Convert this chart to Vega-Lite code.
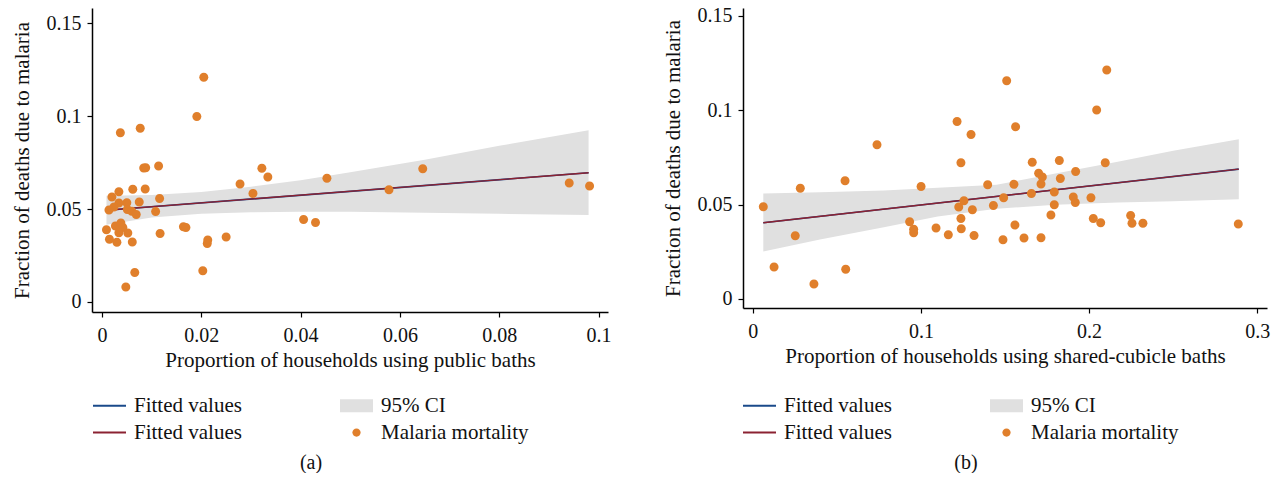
{
  "$schema": "https://vega.github.io/schema/vega-lite/v6.json",
  "background": "white",
  "padding": {"left": 11, "top": 5, "right": 5, "bottom": 0},
  "autosize": {"type": "pad"},
  "bounds": "flush",
  "spacing": 135,
  "config": {
    "view": {"stroke": null},
    "font": "Liberation Serif",
    "axis": {"grid": false, "domainColor": "#000", "domainWidth": 1.5, "tickColor": "#000", "tickWidth": 1.2, "tickSize": 5, "labelFont": "Liberation Serif", "labelFontSize": 20, "labelColor": "#111", "titleFont": "Liberation Serif", "titleFontSize": 21, "titleFontWeight": "normal", "titleColor": "#111", "labelFlush": false, "labelOverlap": false},
    "axisY": {"titlePadding": 14, "labelPadding": 6},
    "axisX": {"titlePadding": 4, "labelPadding": 8},
    "title": {"font": "Liberation Serif", "fontSize": 20, "fontWeight": "normal", "color": "#111", "orient": "bottom", "anchor": "middle", "frame": "bounds", "offset": 10}
  },
  "datasets": {
    "pubPts": [
      {"x":0.0205,"y":0.1208,"s":"mort"},{"x":0.0191,"y":0.0998,"s":"mort"},{"x":0.0037,"y":0.0910,"s":"mort"},{"x":0.0077,"y":0.0935,"s":"mort"},{"x":0.0084,"y":0.0720,"s":"mort"},{"x":0.0088,"y":0.0722,"s":"mort"},{"x":0.0114,"y":0.0731,"s":"mort"},{"x":0.0322,"y":0.0719,"s":"mort"},{"x":0.0334,"y":0.0672,"s":"mort"},{"x":0.0453,"y":0.0665,"s":"mort"},{"x":0.0278,"y":0.0634,"s":"mort"},{"x":0.0304,"y":0.0584,"s":"mort"},{"x":0.0020,"y":0.0565,"s":"mort"},{"x":0.0034,"y":0.0593,"s":"mort"},{"x":0.0062,"y":0.0606,"s":"mort"},{"x":0.0087,"y":0.0608,"s":"mort"},{"x":0.0116,"y":0.0556,"s":"mort"},{"x":0.0075,"y":0.0538,"s":"mort"},{"x":0.0050,"y":0.0534,"s":"mort"},{"x":0.0034,"y":0.0532,"s":"mort"},{"x":0.0024,"y":0.0511,"s":"mort"},{"x":0.0014,"y":0.0495,"s":"mort"},{"x":0.0051,"y":0.0498,"s":"mort"},{"x":0.0060,"y":0.0488,"s":"mort"},{"x":0.0069,"y":0.0471,"s":"mort"},{"x":0.0108,"y":0.0486,"s":"mort"},{"x":0.0009,"y":0.0389,"s":"mort"},{"x":0.0027,"y":0.0409,"s":"mort"},{"x":0.0038,"y":0.0425,"s":"mort"},{"x":0.0042,"y":0.0401,"s":"mort"},{"x":0.0034,"y":0.0373,"s":"mort"},{"x":0.0052,"y":0.0371,"s":"mort"},{"x":0.0015,"y":0.0337,"s":"mort"},{"x":0.0030,"y":0.0321,"s":"mort"},{"x":0.0061,"y":0.0323,"s":"mort"},{"x":0.0117,"y":0.0369,"s":"mort"},{"x":0.0164,"y":0.0405,"s":"mort"},{"x":0.0169,"y":0.0400,"s":"mort"},{"x":0.0213,"y":0.0333,"s":"mort"},{"x":0.0212,"y":0.0314,"s":"mort"},{"x":0.0250,"y":0.0349,"s":"mort"},{"x":0.0406,"y":0.0443,"s":"mort"},{"x":0.0430,"y":0.0427,"s":"mort"},{"x":0.0203,"y":0.0168,"s":"mort"},{"x":0.0066,"y":0.0158,"s":"mort"},{"x":0.0048,"y":0.0081,"s":"mort"},{"x":0.0578,"y":0.0604,"s":"mort"},{"x":0.0646,"y":0.0717,"s":"mort"},{"x":0.0941,"y":0.0640,"s":"mort"},{"x":0.0982,"y":0.0624,"s":"mort"}
    ],
    "pubFit": [{"x":0.0009,"y":0.0493},{"x":0.098,"y":0.0695}],
    "pubCI": [
      {"x":0.0009,"lo":0.0416,"hi":0.0572},{"x":0.01,"lo":0.0455,"hi":0.0575},{"x":0.02,"lo":0.0474,"hi":0.0592},{"x":0.03,"lo":0.0482,"hi":0.0620},{"x":0.04,"lo":0.0485,"hi":0.0655},{"x":0.05,"lo":0.0485,"hi":0.0698},{"x":0.065,"lo":0.0480,"hi":0.0765},{"x":0.08,"lo":0.0474,"hi":0.0840},{"x":0.098,"lo":0.0468,"hi":0.0923}
    ],
    "shPts": [
      {"x":0.0063,"y":0.0489,"s":"mort"},{"x":0.0127,"y":0.0169,"s":"mort"},{"x":0.0253,"y":0.0335,"s":"mort"},{"x":0.0283,"y":0.0587,"s":"mort"},{"x":0.0364,"y":0.0080,"s":"mort"},{"x":0.0549,"y":0.0626,"s":"mort"},{"x":0.0553,"y":0.0158,"s":"mort"},{"x":0.0739,"y":0.0817,"s":"mort"},{"x":0.0933,"y":0.0410,"s":"mort"},{"x":0.0957,"y":0.0369,"s":"mort"},{"x":0.0957,"y":0.0351,"s":"mort"},{"x":0.1001,"y":0.0596,"s":"mort"},{"x":0.1090,"y":0.0376,"s":"mort"},{"x":0.1163,"y":0.0340,"s":"mort"},{"x":0.1215,"y":0.0940,"s":"mort"},{"x":0.1225,"y":0.0488,"s":"mort"},{"x":0.1238,"y":0.0722,"s":"mort"},{"x":0.1238,"y":0.0427,"s":"mort"},{"x":0.1240,"y":0.0372,"s":"mort"},{"x":0.1256,"y":0.0521,"s":"mort"},{"x":0.1298,"y":0.0872,"s":"mort"},{"x":0.1306,"y":0.0473,"s":"mort"},{"x":0.1316,"y":0.0337,"s":"mort"},{"x":0.1397,"y":0.0606,"s":"mort"},{"x":0.1431,"y":0.0496,"s":"mort"},{"x":0.1488,"y":0.0314,"s":"mort"},{"x":0.1492,"y":0.0536,"s":"mort"},{"x":0.1510,"y":0.1156,"s":"mort"},{"x":0.1553,"y":0.0608,"s":"mort"},{"x":0.1563,"y":0.0913,"s":"mort"},{"x":0.1559,"y":0.0392,"s":"mort"},{"x":0.1613,"y":0.0323,"s":"mort"},{"x":0.1657,"y":0.0559,"s":"mort"},{"x":0.1662,"y":0.0725,"s":"mort"},{"x":0.1700,"y":0.0667,"s":"mort"},{"x":0.1722,"y":0.0647,"s":"mort"},{"x":0.1714,"y":0.0610,"s":"mort"},{"x":0.1714,"y":0.0324,"s":"mort"},{"x":0.1773,"y":0.0445,"s":"mort"},{"x":0.1793,"y":0.0567,"s":"mort"},{"x":0.1793,"y":0.0500,"s":"mort"},{"x":0.1823,"y":0.0734,"s":"mort"},{"x":0.1829,"y":0.0638,"s":"mort"},{"x":0.1906,"y":0.0541,"s":"mort"},{"x":0.1920,"y":0.0676,"s":"mort"},{"x":0.1918,"y":0.0511,"s":"mort"},{"x":0.2011,"y":0.0536,"s":"mort"},{"x":0.2025,"y":0.0426,"s":"mort"},{"x":0.2045,"y":0.1002,"s":"mort"},{"x":0.2069,"y":0.0404,"s":"mort"},{"x":0.2096,"y":0.0722,"s":"mort"},{"x":0.2105,"y":0.1213,"s":"mort"},{"x":0.2247,"y":0.0443,"s":"mort"},{"x":0.2255,"y":0.0401,"s":"mort"},{"x":0.2320,"y":0.0401,"s":"mort"},{"x":0.2887,"y":0.0397,"s":"mort"}
    ],
    "shFit": [{"x":0.0063,"y":0.0404},{"x":0.289,"y":0.0688}],
    "shCI": [
      {"x":0.0063,"lo":0.0252,"hi":0.0559},{"x":0.04,"lo":0.0315,"hi":0.0565},{"x":0.078,"lo":0.0380,"hi":0.0575},{"x":0.11,"lo":0.0437,"hi":0.0590},{"x":0.145,"lo":0.0478,"hi":0.0605},{"x":0.18,"lo":0.0500,"hi":0.0665},{"x":0.217,"lo":0.0511,"hi":0.0727},{"x":0.25,"lo":0.0518,"hi":0.0785},{"x":0.289,"lo":0.0528,"hi":0.0847}
    ]
  },
  "hconcat": [
    {
      "width": 516,
      "height": 304,
      "title": {"text": "(a)"},
      "encoding": {
        "x": {"field": "x", "type": "quantitative", "title": "Proportion of households using public baths", "scale": {"domain": [-0.002014, 0.10191], "nice": false, "zero": false}, "axis": {"values": [0, 0.02, 0.04, 0.06, 0.08, 0.1], "format": "~g"}},
        "y": {"field": "y", "type": "quantitative", "title": "Fraction of deaths due to malaria", "scale": {"domain": [-0.00538, 0.1581], "nice": false, "zero": false}, "axis": {"values": [0, 0.05, 0.1, 0.15], "format": "~g"}}
      },
      "layer": [
        {"data": {"name": "pubCI"}, "mark": {"type": "area", "color": "#E0E0E0"},
         "encoding": {"y": {"field": "lo", "type": "quantitative", "title": "Fraction of deaths due to malaria", "scale": {"domain": [-0.00538, 0.1581], "nice": false, "zero": false}, "axis": {"values": [0, 0.05, 0.1, 0.15], "format": "~g"}}, "y2": {"field": "hi"}}},
        {"data": {"name": "pubFit"}, "mark": {"type": "line", "color": "#1A4A8A", "strokeWidth": 1.6}},
        {"data": {"name": "pubFit"}, "mark": {"type": "line", "color": "#8B2232", "strokeWidth": 1.4}},
        {"data": {"name": "pubPts"}, "mark": {"type": "point", "filled": true, "opacity": 1, "size": 1296},
         "encoding": {
           "color": {"field": "s", "type": "nominal", "scale": {"domain": ["fit1", "fit2", "ci", "mort"], "range": ["#1A4A8A", "#8B2232", "#E0E0E0", "#E07F2B"]},
             "legend": {"title": null, "orient": "none", "legendX": 1, "legendY": 381, "columns": 2, "columnPadding": 98, "rowPadding": 0, "symbolSize": 1089, "symbolStrokeWidth": 0, "labelFont": "Liberation Serif", "labelFontSize": 21, "labelColor": "#111", "labelOffset": 8, "labelExpr": "datum.value == 'ci' ? '95% CI' : datum.value == 'mort' ? 'Malaria mortality' : 'Fitted values'"}},
           "shape": {"field": "s", "type": "nominal", "scale": {"domain": ["fit1", "fit2", "ci", "mort"], "range": ["M-1,-0.06H1V0.06H-1Z", "M-1,-0.06H1V0.06H-1Z", "M-1,-0.4H1V0.4H-1Z", "M0.25,0A0.25,0.25,0,1,1,-0.25,0A0.25,0.25,0,1,1,0.25,0Z"]},
             "legend": {"title": null, "orient": "none", "legendX": 1, "legendY": 381, "columns": 2, "columnPadding": 98, "rowPadding": 0, "symbolSize": 1089, "symbolStrokeWidth": 0, "labelFont": "Liberation Serif", "labelFontSize": 21, "labelColor": "#111", "labelOffset": 8, "labelExpr": "datum.value == 'ci' ? '95% CI' : datum.value == 'mort' ? 'Malaria mortality' : 'Fitted values'"}}
         }}
      ]
    },
    {
      "width": 524,
      "height": 300,
      "title": {"text": "(b)"},
      "encoding": {
        "x": {"field": "x", "type": "quantitative", "title": "Proportion of households using shared-cubicle baths", "scale": {"domain": [-0.00577, 0.30577], "nice": false, "zero": false}, "axis": {"values": [0, 0.1, 0.2, 0.3], "format": "~g"}},
        "y": {"field": "y", "type": "quantitative", "title": "Fraction of deaths due to malaria", "scale": {"domain": [-0.00477, 0.1542], "nice": false, "zero": false}, "axis": {"values": [0, 0.05, 0.1, 0.15], "format": "~g"}}
      },
      "layer": [
        {"data": {"name": "shCI"}, "mark": {"type": "area", "color": "#E0E0E0"},
         "encoding": {"y": {"field": "lo", "type": "quantitative", "title": "Fraction of deaths due to malaria", "scale": {"domain": [-0.00477, 0.1542], "nice": false, "zero": false}, "axis": {"values": [0, 0.05, 0.1, 0.15], "format": "~g"}}, "y2": {"field": "hi"}}},
        {"data": {"name": "shFit"}, "mark": {"type": "line", "color": "#1A4A8A", "strokeWidth": 1.6}},
        {"data": {"name": "shFit"}, "mark": {"type": "line", "color": "#8B2232", "strokeWidth": 1.4}},
        {"data": {"name": "shPts"}, "mark": {"type": "point", "filled": true, "opacity": 1, "size": 1296},
         "encoding": {
           "color": {"field": "s", "type": "nominal", "scale": {"domain": ["fit1", "fit2", "ci", "mort"], "range": ["#1A4A8A", "#8B2232", "#E0E0E0", "#E07F2B"]},
             "legend": {"title": null, "orient": "none", "legendX": 0, "legendY": 381, "columns": 2, "columnPadding": 98, "rowPadding": 0, "symbolSize": 1089, "symbolStrokeWidth": 0, "labelFont": "Liberation Serif", "labelFontSize": 21, "labelColor": "#111", "labelOffset": 8, "labelExpr": "datum.value == 'ci' ? '95% CI' : datum.value == 'mort' ? 'Malaria mortality' : 'Fitted values'"}},
           "shape": {"field": "s", "type": "nominal", "scale": {"domain": ["fit1", "fit2", "ci", "mort"], "range": ["M-1,-0.06H1V0.06H-1Z", "M-1,-0.06H1V0.06H-1Z", "M-1,-0.4H1V0.4H-1Z", "M0.25,0A0.25,0.25,0,1,1,-0.25,0A0.25,0.25,0,1,1,0.25,0Z"]},
             "legend": {"title": null, "orient": "none", "legendX": 0, "legendY": 381, "columns": 2, "columnPadding": 98, "rowPadding": 0, "symbolSize": 1089, "symbolStrokeWidth": 0, "labelFont": "Liberation Serif", "labelFontSize": 21, "labelColor": "#111", "labelOffset": 8, "labelExpr": "datum.value == 'ci' ? '95% CI' : datum.value == 'mort' ? 'Malaria mortality' : 'Fitted values'"}}
         }}
      ]
    }
  ],
  "resolve": {"scale": {"color": "independent", "shape": "independent"}, "legend": {"color": "independent", "shape": "independent"}}
}
